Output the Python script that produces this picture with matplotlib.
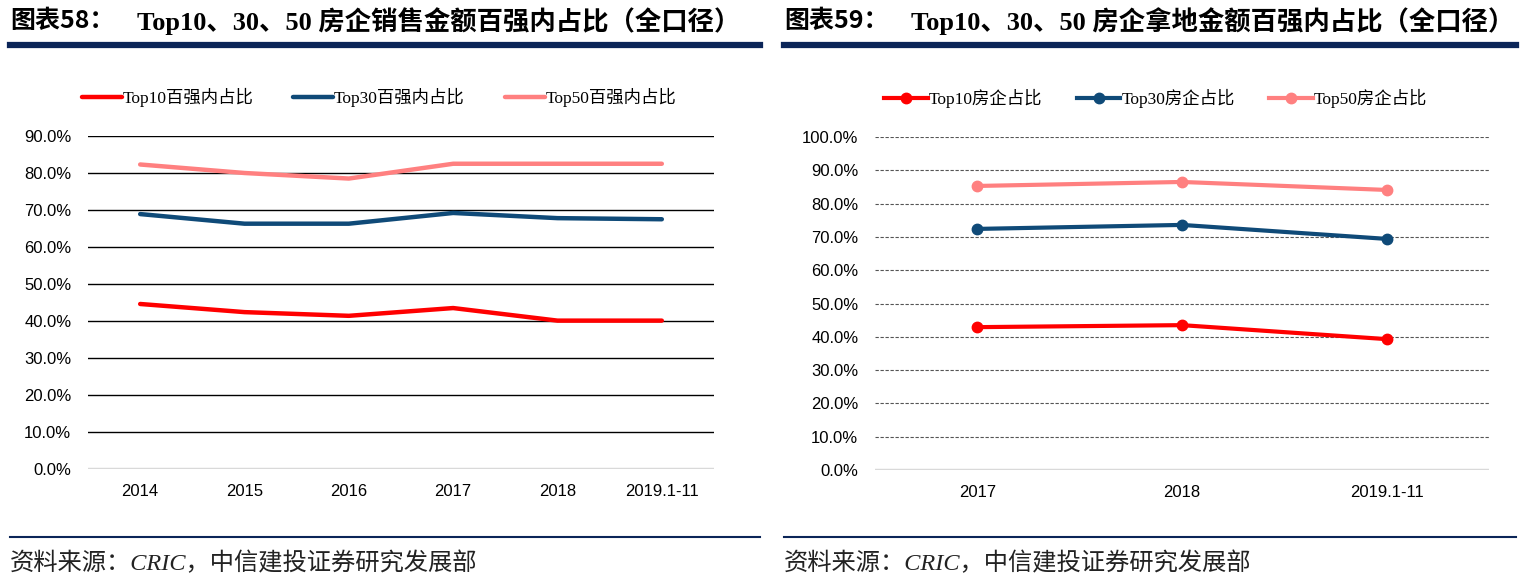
import numpy as np
import matplotlib; matplotlib.use("Agg")
import matplotlib.pyplot as plt
from matplotlib.ticker import FuncFormatter
from matplotlib.lines import Line2D

# --- data ---
years_a = ["2014", "2015", "2016", "2017", "2018", "2019.1-11"]
top10_a = [44.6, 42.4, 41.4, 43.5, 40.1, 40.1]
top30_a = [68.9, 66.3, 66.3, 69.2, 67.8, 67.5]
top50_a = [82.3, 80.0, 78.5, 82.5, 82.5, 82.5]

years_b = ["2017", "2018", "2019.1-11"]
top10_b = [42.9, 43.5, 39.3]
top30_b = [72.4, 73.6, 69.4]
top50_b = [85.3, 86.5, 84.1]

names_a = ["Top10百强内占比", "Top30百强内占比", "Top50百强内占比"]
names_b = ["Top10房企占比", "Top30房企占比", "Top50房企占比"]
titles = [("图表58：", "Top10、30、50 房企销售金额百强内占比（全口径）"),
          ("图表59：", "Top10、30、50 房企拿地金额百强内占比（全口径）")]
source = "资料来源：CRIC，中信建投证券研究发展部"

RED, NAVY, PINK = "#FF0000", "#0F4A78", "#FF8080"
DARK = "#0B2558"
SERIF = ["Liberation Serif", "Noto Sans CJK SC"]
SANS = ["Liberation Sans", "Noto Sans CJK SC"]
W, H = 1522, 581

fig = plt.figure(figsize=(W/100, H/100), dpi=100)
pct = FuncFormatter(lambda v, p: f"{v:.1f}%")

def header(x0, x1, t):
    fig.text(x0/W, 1-21/H, t[0], family=["Noto Sans CJK SC"], fontsize=18, weight="bold", va="center", ha="left")
    fig.text((x0+127)/W, 1-21/H, t[1], family=SERIF, fontsize=19, weight="bold", va="center", ha="left")
    fig.add_artist(Line2D([x0/W, x1/W], [1-45/H]*2, color=DARK, lw=4.5))
    fig.add_artist(Line2D([x0/W, x1/W], [1-537/H]*2, color=DARK, lw=1.5))
    fig.text(x0/W, 1-563/H, source, family=SERIF, fontsize=17.5, style="italic", va="center", ha="left", color="#222222")

header(10, 760, titles[0])
header(784, 1516, titles[1])

def style(ax, ymax, dashed):
    ax.set_ylim(0, ymax)
    ax.set_yticks(np.arange(0, ymax+0.1, 10))
    ax.yaxis.set_major_formatter(pct)
    ax.set_xlim(-0.5, len(ax.lines[0].get_xdata())-0.5)
    for s in ax.spines.values():
        s.set_visible(False)
    ax.tick_params(length=0, labelsize=12, pad=12)
    ax.tick_params(axis="x", pad=11)
    for lab in ax.get_xticklabels()+ax.get_yticklabels():
        lab.set_family(SANS)
    for v in np.arange(10, ymax+0.1, 10):
        if dashed:
            ax.axhline(v, color="#555555", lw=0.8, ls=(0, (3, 1.5)), zorder=0)
        else:
            ax.axhline(v, color="black", lw=1.0, zorder=0)
    ax.axhline(0, color="#D9D9D9", lw=2.5, zorder=0)

# left chart
axa = fig.add_axes([88/W, 1-469/H, 626/W, 333/H])
xa = np.arange(len(years_a))
for vals, c, n in zip([top10_a, top30_a, top50_a], [RED, NAVY, PINK], names_a):
    axa.plot(xa, vals, color=c, lw=3.2, label=n, solid_capstyle="round")
axa.set_xticks(xa, years_a)
style(axa, 90, False)
axa.legend(loc="lower left", bbox_to_anchor=(-0.035, 1.04), ncol=3, frameon=False,
           prop={"family": SERIF, "size": 12.5}, handlelength=2.3, handletextpad=0.05, columnspacing=2.3)

# right chart
axb = fig.add_axes([875/W, 1-470/H, 614/W, 333/H])
xb = np.arange(len(years_b))
for vals, c, n in zip([top10_b, top30_b, top50_b], [RED, NAVY, PINK], names_b):
    axb.plot(xb, vals, color=c, lw=3.0, marker="o", ms=7.5, label=n)
axb.set_xticks(xb, years_b)
style(axb, 100, True)
axb.legend(loc="lower left", bbox_to_anchor=(-0.01, 1.04), ncol=3, frameon=False,
           prop={"family": SERIF, "size": 12.5}, handlelength=2.5, handletextpad=0.05, columnspacing=2.0)

fig.savefig("out.png", dpi=100)
